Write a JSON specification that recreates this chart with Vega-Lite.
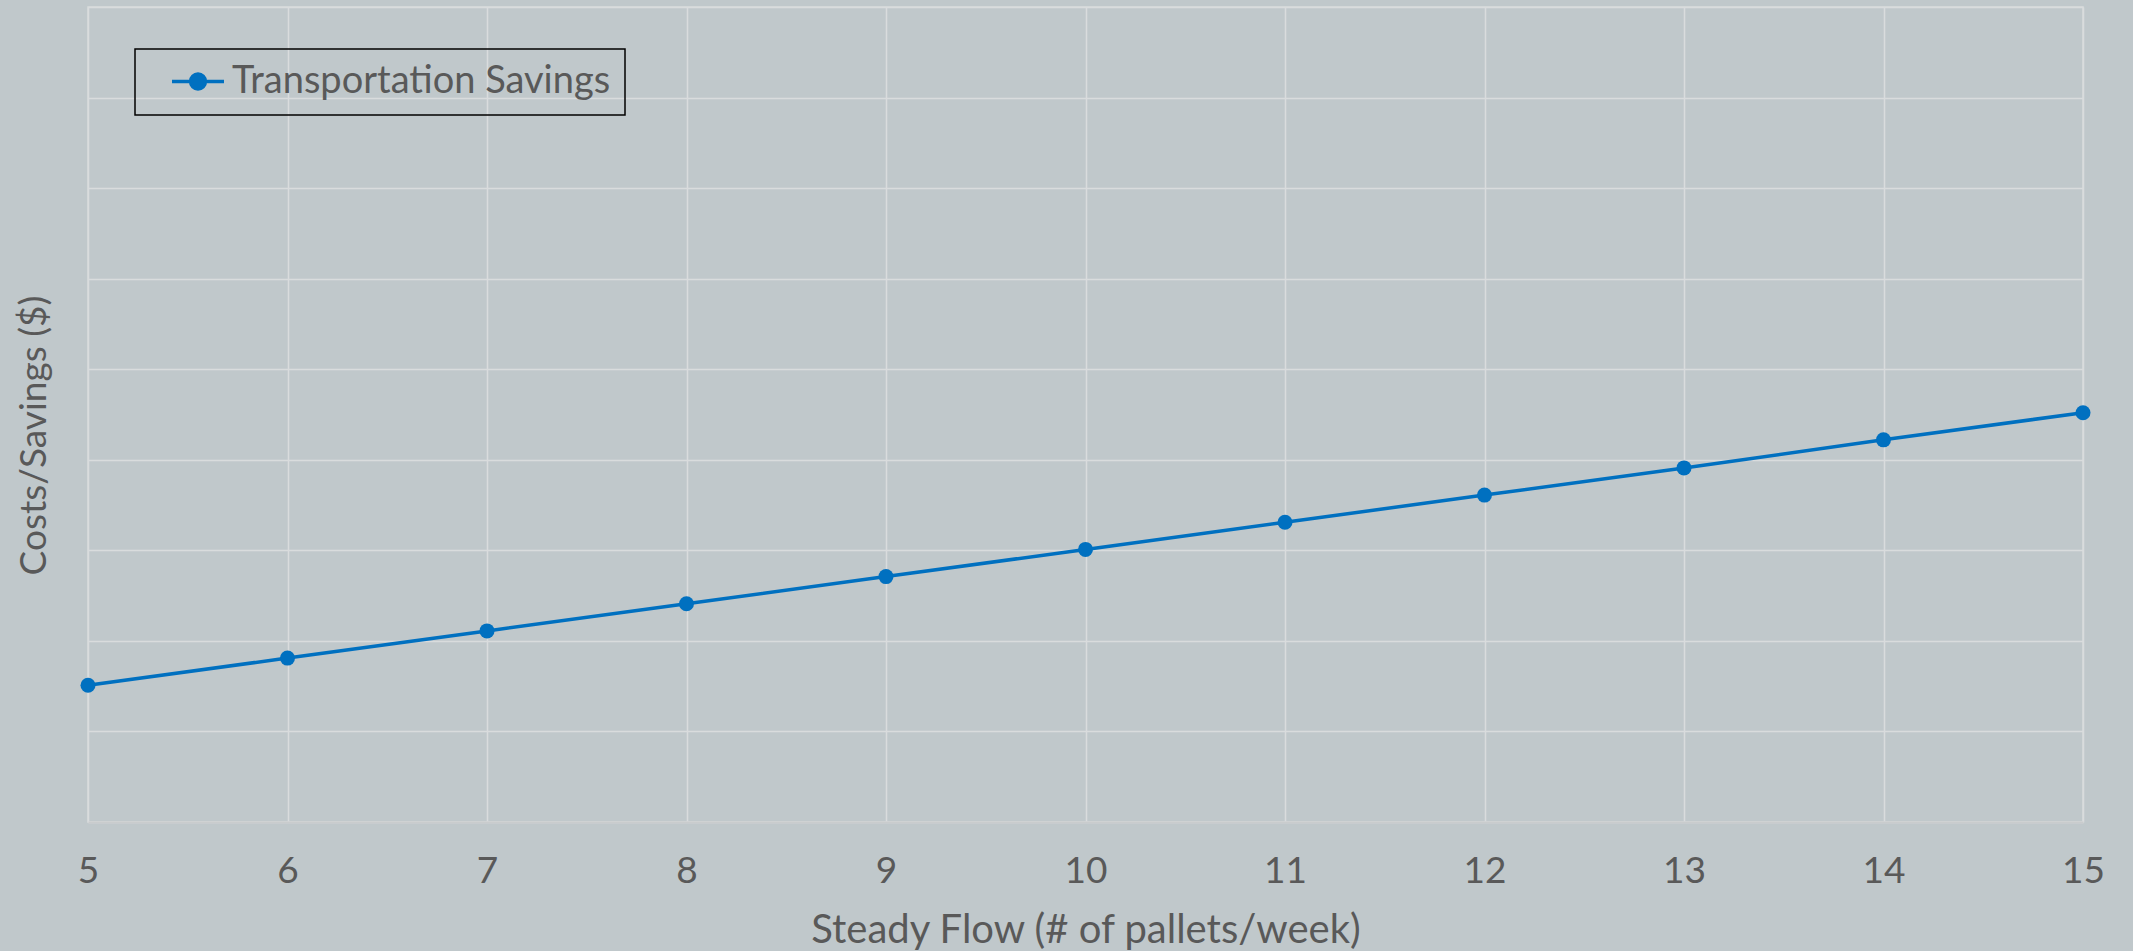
{
  "$schema": "https://vega.github.io/schema/vega-lite/v6.json",
  "autosize": {"type": "none"},
  "width": 1995,
  "height": 815,
  "padding": {"left": 88, "top": 7, "right": 50, "bottom": 129},
  "background": "#c0c8cb",
  "config": {
    "font": "Lato",
    "view": {"stroke": "#d8dbdc", "strokeWidth": 1.5},
    "axis": {"labelColor": "#595959", "titleColor": "#595959", "titleFontWeight": "normal", "gridColor": "#d9dcdd", "gridWidth": 1.5, "gridOpacity": 1}
  },
  "data": {
    "values": [
      {"flow": 5, "value": 1510, "series": "Transportation Savings"},
      {"flow": 6, "value": 1810, "series": "Transportation Savings"},
      {"flow": 7, "value": 2110, "series": "Transportation Savings"},
      {"flow": 8, "value": 2410, "series": "Transportation Savings"},
      {"flow": 9, "value": 2710, "series": "Transportation Savings"},
      {"flow": 10, "value": 3010, "series": "Transportation Savings"},
      {"flow": 11, "value": 3310, "series": "Transportation Savings"},
      {"flow": 12, "value": 3610, "series": "Transportation Savings"},
      {"flow": 13, "value": 3910, "series": "Transportation Savings"},
      {"flow": 14, "value": 4220, "series": "Transportation Savings"},
      {"flow": 15, "value": 4520, "series": "Transportation Savings"}
    ]
  },
  "mark": {"type": "line", "strokeWidth": 3.5, "point": {"filled": true, "size": 225, "opacity": 1}},
  "encoding": {
    "x": {
      "field": "flow", "type": "quantitative",
      "scale": {"domain": [5, 15], "nice": false, "zero": false},
      "axis": {
        "title": "Steady Flow (# of pallets/week)",
        "values": [5, 6, 7, 8, 9, 10, 11, 12, 13, 14, 15],
        "format": "d",
        "ticks": false,
        "domainColor": "#c9cccd",
        "domainWidth": 2,
        "labelFontSize": 37,
        "labelBaseline": "middle",
        "labelPadding": 49,
        "labelFlush": false,
        "titleFontSize": 40,
        "titleBaseline": "middle",
        "titleY": 108
      }
    },
    "y": {
      "field": "value", "type": "quantitative",
      "scale": {"domain": [0, 9000], "nice": false},
      "axis": {
        "title": "Costs/Savings ($)",
        "values": [0, 1000, 2000, 3000, 4000, 5000, 6000, 7000, 8000, 9000],
        "labels": false,
        "ticks": false,
        "domain": false,
        "titleFontSize": 37,
        "titleAngle": -90,
        "titleBaseline": "middle",
        "titleX": -54,
        "titleY": 428
      }
    },
    "color": {
      "field": "series", "type": "nominal",
      "scale": {"domain": ["Transportation Savings"], "range": ["#0070c0"]},
      "legend": {
        "title": null,
        "orient": "none",
        "legendX": 47,
        "legendY": 42,
        "padding": 14,
        "strokeColor": "#000000",
        "labelFontSize": 38,
        "labelLimit": 0,
        "labelColor": "#595959",
        "labelOffset": 6,
        "symbolOffset": 21,
        "clipHeight": 37,
        "symbolSize": 2704,
        "symbolType": "M-1,0L1,0M-0.29,0A0.29,0.29,0,1,0,0.29,0A0.29,0.29,0,1,0,-0.29,0Z",
        "symbolStrokeWidth": 3.3,
        "encode": {
          "legend": {"update": {"strokeWidth": {"value": 1.5}}},
          "symbols": {"update": {"fill": {"value": "#0070c0"}, "stroke": {"value": "#0070c0"}, "strokeWidth": {"value": 3.3}, "opacity": {"value": 1}}}
        }
      }
    }
  }
}
